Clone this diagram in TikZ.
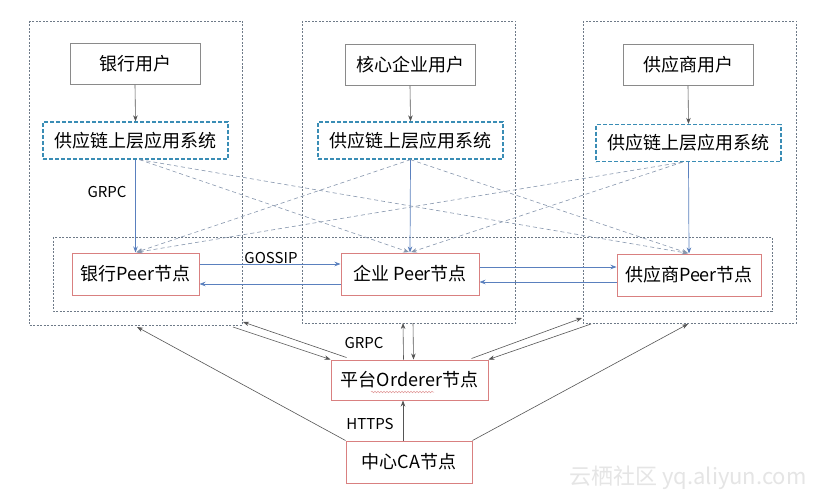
\documentclass[tikz,border=0pt]{standalone}
\usepackage{fontspec}
\setmainfont{Noto Sans CJK SC}
\usetikzlibrary{arrows.meta,calc,decorations.pathmorphing}
\definecolor{boxgray}{HTML}{8A8A8A}
\definecolor{boxred}{HTML}{D98080}
\definecolor{appblue}{HTML}{3A8DB5}
\definecolor{linkblue}{HTML}{5A80BE}
\definecolor{outergray}{HTML}{6E7A88}
\definecolor{crossgray}{HTML}{8797AE}
\definecolor{arrgray}{HTML}{555555}
\tikzset{
  userbox/.style={draw=boxgray, line width=0.9pt, minimum width=130pt, minimum height=41pt, inner sep=0pt, font=\fontsize{18}{21}\selectfont},
  appbox/.style={draw=appblue, line width=1.3pt, dash pattern=on 4pt off 2pt, minimum width=185pt, minimum height=37pt, inner sep=0pt, font=\fontsize{18}{21}\selectfont},
  peerbox/.style={draw=boxred, line width=1pt, minimum height=42pt, inner sep=0pt, font=\fontsize{18}{21}\selectfont},
  outerbox/.style={draw=outergray, line width=0.7pt, dash pattern=on 2pt off 1.5pt},
  grayarr/.style={draw=arrgray, line width=0.6pt, -{Stealth[length=6pt,width=4.5pt]}},
  bluearr/.style={draw=linkblue, line width=0.7pt, -{Stealth[length=6pt,width=4.5pt]}},
  crossarr/.style={draw=crossgray, line width=0.6pt, dash pattern=on 4pt off 3pt, -{Stealth[length=6pt,width=4.5pt]}, shorten >=1pt},
  lbl/.style={font=\fontsize{15}{17}\selectfont, inner sep=0pt}
}
\begin{document}
\begin{tikzpicture}[x=1pt,y=-1pt]
\useasboundingbox (0,0) rectangle (834,503);
\fill[white] (0,0) rectangle (834,503);
% outer group boxes
\draw[outerbox] (29,21) rectangle (242,325);
\draw[outerbox] (302,21) rectangle (515,323);
\draw[outerbox] (583,21) rectangle (796,323);
\draw[outerbox] (53,237) rectangle (772,311);
\coordinate (b1l) at (233,327);
\coordinate (b1r) at (243,322);
\coordinate (b1c) at (137,327);
\coordinate (b2l) at (403,323);
\coordinate (b2r) at (413,323);
\coordinate (b3l) at (582,318);
\coordinate (b3r) at (591,324);
\coordinate (b3c) at (688,324);
% users
\node[userbox] (u1) at (135,64) {银行用户};
\node[userbox] (u2) at (410,65) {核心企业用户};
\node[userbox] (u3) at (688,65) {供应商用户};
% apps
\node[appbox] (a1) at (135.5,140.5) {供应链上层应用系统};
\node[appbox] (a2) at (410.5,140.5) {供应链上层应用系统};
\node[appbox] (a3) at (688.5,143) {供应链上层应用系统};
% peers
\node[peerbox, minimum width=127pt] (p1) at (135.5,274) {银行Peer节点};
\node[peerbox, minimum width=138pt] (p2) at (410,274) {企业 Peer节点};
\node[peerbox, minimum width=144pt] (p3) at (689,275) {供应商Peer节点};
% orderer and CA
\node[peerbox, minimum width=157pt, minimum height=40pt] (o) at (409.5,380) {平台Orderer节点};
\node[peerbox, minimum width=126pt] (ca) at (409,462) {中心CA节点};
\draw[boxred!80, line width=0.5pt, decorate, decoration={snake, amplitude=0.8pt, segment length=3pt}] (371,392) -- (434,392);
% user -> app
\draw[grayarr] (u1.south) -- (a1.north);
\draw[grayarr] (u2.south) -- (a2.north);
\draw[grayarr] (u3.south) -- (a3.north);
% app -> own peer
\draw[bluearr] (a1.south) -- (p1.north);
\draw[bluearr] (a2.south) -- (p2.north);
\draw[bluearr] (a3.south) -- (p3.north);
\node[lbl] (grpc1) at (107,192) {GRPC};
% cross dashed
\draw[crossarr] ($(a1.south)+(4,0)$) -- (p2.north);
\draw[crossarr] ($(a1.south)+(4,0)$) -- (p3.north);
\draw[crossarr] (a2.south) -- (p1.north);
\draw[crossarr] (a2.south) -- (p3.north);
\draw[crossarr] ($(a3.south)+(-6,0)$) -- (p1.north);
\draw[crossarr] ($(a3.south)+(-6,0)$) -- (p2.north);
% gossip
\draw[bluearr] (p1.east |- 0,264) -- (p2.west |- 0,264);
\draw[bluearr] (p2.west |- 0,284) -- (p1.east |- 0,284);
\draw[bluearr] (p2.east |- 0,267) -- (p3.west |- 0,267);
\draw[bluearr] (p3.west |- 0,282) -- (p2.east |- 0,282);
\node[lbl] (gossip) at (271,258) {GOSSIP};
% orderer links
\draw[grayarr] (b1l) -- (o.north west);
\draw[grayarr] ($(o.north west)+(16,-2)$) -- (b1r);
\draw[grayarr] ($(o.north)+(-6,0)$) -- (b2l);
\draw[grayarr] (b2r) -- ($(o.north)+(4,0)$);
\draw[grayarr] ($(o.north east)+(-17,-1)$) -- (b3l);
\draw[grayarr] (b3r) -- (o.north east);
\node[lbl] (grpc2) at (364,343) {GRPC};
% CA links
\draw[grayarr] ($(ca.north)+(-6,0)$) -- ($(o.south)+(-6.5,0)$);
\node[lbl] (https) at (370,424) {HTTPS};
\draw[grayarr] (ca.north west) -- (b1c);
\draw[grayarr] (ca.north east) -- (b3c);
% watermark
\node[font=\fontsize{22}{24}\selectfont, text=black!10, inner sep=0pt] (wm) at (688,478) {云栖社区 yq.aliyun.com};
\end{tikzpicture}
\end{document}
